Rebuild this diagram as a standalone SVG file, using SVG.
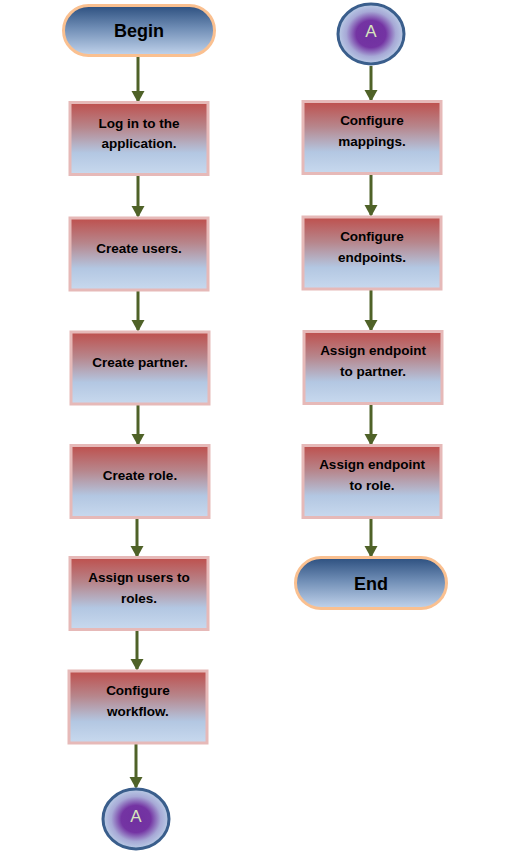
<svg xmlns="http://www.w3.org/2000/svg" width="511" height="852" viewBox="0 0 511 852">
<defs>
<linearGradient id="boxg" x1="0" y1="0" x2="0" y2="1">
<stop offset="0" stop-color="#BE4F4C"/>
<stop offset="0.35" stop-color="#B7868C"/>
<stop offset="0.7" stop-color="#B3C7E2"/>
<stop offset="1" stop-color="#C8D9EE"/>
</linearGradient>
<linearGradient id="termg" x1="0" y1="0" x2="0" y2="1">
<stop offset="0" stop-color="#2C4F7F"/>
<stop offset="0.45" stop-color="#6F8DB5"/>
<stop offset="1" stop-color="#C2D4EC"/>
</linearGradient>
<radialGradient id="circg" cx="0.5" cy="0.5" r="0.5">
<stop offset="0" stop-color="#7030A0"/>
<stop offset="0.45" stop-color="#7434A3"/>
<stop offset="0.75" stop-color="#A7A9D6"/>
<stop offset="1" stop-color="#BACDE6"/>
</radialGradient>
<marker id="arr" markerWidth="4.5" markerHeight="4.5" refX="3.4" refY="2.2" orient="auto" markerUnits="strokeWidth">
<path d="M0,0 L4,2.2 L0,4.4 Z" fill="#4F6228"/>
</marker>
<style>
.box{fill:url(#boxg);stroke:#E6B9B8;stroke-width:3}
.term{fill:url(#termg);stroke:#FAC090;stroke-width:3}
.circ{fill:url(#circg);stroke:#3A5E8C;stroke-width:3}
.t{font-family:"Liberation Sans",Arial,sans-serif;font-weight:bold;font-size:13.5px;fill:#000;text-anchor:middle}
.tt{font-family:"Liberation Sans",Arial,sans-serif;font-weight:bold;font-size:18px;fill:#000;text-anchor:middle}
.ta{font-family:"Liberation Sans",Arial,sans-serif;font-size:17px;fill:#D7E4BD;text-anchor:middle}
.c{stroke:#4F6228;stroke-width:3;fill:none;marker-end:url(#arr)}
</style>
</defs>
<g id="connectors">
<line class="c" x1="138" y1="57" x2="138" y2="101"/>
<line class="c" x1="138" y1="175" x2="138" y2="216"/>
<line class="c" x1="138" y1="291" x2="138" y2="330"/>
<line class="c" x1="138" y1="405" x2="138" y2="444"/>
<line class="c" x1="137" y1="518" x2="137" y2="556"/>
<line class="c" x1="137" y1="631" x2="137" y2="669"/>
<line class="c" x1="136" y1="744" x2="136" y2="787"/>
<line class="c" x1="371" y1="66" x2="371" y2="100"/>
<line class="c" x1="371" y1="174" x2="371" y2="215"/>
<line class="c" x1="371" y1="290" x2="371" y2="330"/>
<line class="c" x1="371" y1="404" x2="371" y2="444"/>
<line class="c" x1="371" y1="519" x2="371" y2="556"/>
</g>
<g id="begin">
<rect class="term" x="63.5" y="5.5" width="151" height="50" rx="25"/>
<text class="tt" x="139" y="37">Begin</text>
</g>
<g id="login">
<rect class="box" x="70" y="102.5" width="138" height="72"/>
<text class="t" x="139" y="128">Log in to the</text>
<text class="t" x="139" y="148">application.</text>
</g>
<g id="users">
<rect class="box" x="70" y="218" width="138" height="72"/>
<text class="t" x="139" y="253">Create users.</text>
</g>
<g id="partner">
<rect class="box" x="71" y="332" width="138" height="72"/>
<text class="t" x="140" y="367">Create partner.</text>
</g>
<g id="role">
<rect class="box" x="71" y="445.5" width="138" height="72"/>
<text class="t" x="140" y="480">Create role.</text>
</g>
<g id="assignusers">
<rect class="box" x="70" y="557.5" width="138" height="72"/>
<text class="t" x="139" y="582">Assign users to</text>
<text class="t" x="139" y="603">roles.</text>
</g>
<g id="workflow">
<rect class="box" x="69" y="671" width="138" height="72"/>
<text class="t" x="138" y="695">Configure</text>
<text class="t" x="138" y="716">workflow.</text>
</g>
<g id="connA1">
<ellipse class="circ" cx="136" cy="819" rx="33" ry="30"/>
<text class="ta" x="136" y="822">A</text>
</g>
<g id="connA2">
<ellipse class="circ" cx="371" cy="34" rx="33" ry="30"/>
<text class="ta" x="371" y="37">A</text>
</g>
<g id="mappings">
<rect class="box" x="303" y="101.5" width="138" height="72"/>
<text class="t" x="372" y="125">Configure</text>
<text class="t" x="372" y="146">mappings.</text>
</g>
<g id="endpoints">
<rect class="box" x="303" y="217" width="138" height="72"/>
<text class="t" x="372" y="241">Configure</text>
<text class="t" x="372" y="262">endpoints.</text>
</g>
<g id="eppartner">
<rect class="box" x="304" y="331.5" width="138" height="72"/>
<text class="t" x="373" y="355">Assign endpoint</text>
<text class="t" x="373" y="376">to partner.</text>
</g>
<g id="eprole">
<rect class="box" x="303" y="445.5" width="138" height="72"/>
<text class="t" x="372" y="469">Assign endpoint</text>
<text class="t" x="372" y="490">to role.</text>
</g>
<g id="end">
<rect class="term" x="295.5" y="557.5" width="151" height="51" rx="25.5"/>
<text class="tt" x="371" y="590">End</text>
</g>
</svg>
